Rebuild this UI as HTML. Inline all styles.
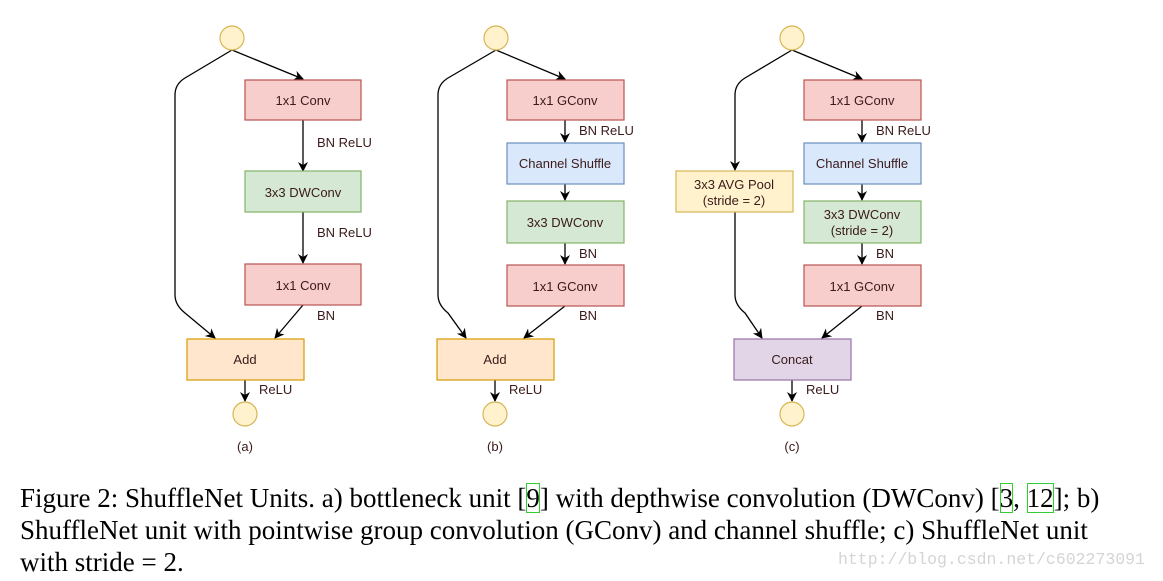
<!DOCTYPE html>
<html><head><meta charset="utf-8"><style>
html,body{margin:0;padding:0;background:#fff;width:1163px;height:581px;overflow:hidden;position:relative}
svg{position:absolute;left:0;top:0}
.cap{position:absolute;left:20px;top:482px;font-family:"Liberation Serif",serif;font-size:27px;line-height:32px;color:#000;letter-spacing:0px;white-space:nowrap}
.ref{outline:1px solid #3c3;outline-offset:-1px}
.wm{position:absolute;left:838px;top:550px;font-family:"Liberation Mono",monospace;font-size:16.5px;color:#d4d4d4}
</style></head><body>
<svg width="1163" height="581" viewBox="0 0 1163 581" font-family="Liberation Sans, sans-serif" font-size="13">
<defs><marker id="a" markerWidth="10" markerHeight="10" refX="9" refY="5" orient="auto" markerUnits="userSpaceOnUse"><path d="M0,0 L10,5 L0,10 L3,5z" fill="#000"/></marker></defs>
<g fill="none" stroke="#000" stroke-width="1.3">
<path d="M232,50 L303,79" marker-end="url(#a)"/>
<path d="M232,50 L185,78 Q175,84 175,95 L175,295 Q175,305 185,313 L215,338" marker-end="url(#a)"/>
<path d="M303,120 V171" marker-end="url(#a)"/>
<path d="M303,212 V263" marker-end="url(#a)"/>
<path d="M303,305 L275,338" marker-end="url(#a)"/>
<path d="M245,380 V401" marker-end="url(#a)"/>
<path d="M496,50 L565,79" marker-end="url(#a)"/>
<path d="M496,50 L448,78 Q438,84 438,95 L438,295 Q438,305 448,313 L466,338" marker-end="url(#a)"/>
<path d="M565,120 V142" marker-end="url(#a)"/>
<path d="M565,184 V200" marker-end="url(#a)"/>
<path d="M565,243 V264" marker-end="url(#a)"/>
<path d="M565,306 L524,338" marker-end="url(#a)"/>
<path d="M495,380 V401" marker-end="url(#a)"/>
<path d="M792,50 L862,79" marker-end="url(#a)"/>
<path d="M792,50 L745,78 Q735,84 735,95 L735,170" marker-end="url(#a)"/>
<path d="M735,212 L735,295 Q735,305 745,313 L762,338" marker-end="url(#a)"/>
<path d="M862,120 V142" marker-end="url(#a)"/>
<path d="M862,184 V200" marker-end="url(#a)"/>
<path d="M862,243 V264" marker-end="url(#a)"/>
<path d="M862,306 L822,338" marker-end="url(#a)"/>
<path d="M792,380 V401" marker-end="url(#a)"/>
</g>
<g stroke-width="1.2">
<circle cx="232" cy="38" r="12" fill="#fff2cc" stroke="#d6b656"/>
<circle cx="245" cy="414" r="12" fill="#fff2cc" stroke="#d6b656"/>
<circle cx="496" cy="38" r="12" fill="#fff2cc" stroke="#d6b656"/>
<circle cx="495" cy="414" r="12" fill="#fff2cc" stroke="#d6b656"/>
<circle cx="792" cy="38" r="12" fill="#fff2cc" stroke="#d6b656"/>
<circle cx="792" cy="414" r="12" fill="#fff2cc" stroke="#d6b656"/>
<rect x="245" y="80" width="116" height="40" fill="#f8cecc" stroke="#b85450"/>
<rect x="245" y="171" width="116" height="41" fill="#d5e8d4" stroke="#82b366"/>
<rect x="245" y="264" width="116" height="41" fill="#f8cecc" stroke="#b85450"/>
<rect x="187" y="339" width="117" height="41" fill="#ffe6cc" stroke="#d79b00"/>
<rect x="507" y="80" width="117" height="40" fill="#f8cecc" stroke="#b85450"/>
<rect x="507" y="143" width="117" height="41" fill="#dae8fc" stroke="#6c8ebf"/>
<rect x="507" y="201" width="117" height="42" fill="#d5e8d4" stroke="#82b366"/>
<rect x="507" y="265" width="117" height="41" fill="#f8cecc" stroke="#b85450"/>
<rect x="437" y="339" width="117" height="41" fill="#ffe6cc" stroke="#d79b00"/>
<rect x="804" y="80" width="117" height="40" fill="#f8cecc" stroke="#b85450"/>
<rect x="804" y="143" width="117" height="41" fill="#dae8fc" stroke="#6c8ebf"/>
<rect x="804" y="201" width="117" height="42" fill="#d5e8d4" stroke="#82b366"/>
<rect x="804" y="265" width="117" height="41" fill="#f8cecc" stroke="#b85450"/>
<rect x="676" y="171" width="117" height="41" fill="#fff2cc" stroke="#d6b656"/>
<rect x="734" y="339" width="117" height="41" fill="#e1d5e7" stroke="#9673a6"/>
</g>
<g fill="#3a1a1a" text-anchor="middle">
<text x="303" y="105">1x1 Conv</text>
<text x="303" y="197">3x3 DWConv</text>
<text x="303" y="290">1x1 Conv</text>
<text x="245" y="364">Add</text>
<text x="245" y="451">(a)</text>
<text x="565" y="105">1x1 GConv</text>
<text x="565" y="168">Channel Shuffle</text>
<text x="565" y="227">3x3 DWConv</text>
<text x="565" y="291">1x1 GConv</text>
<text x="495" y="364">Add</text>
<text x="495" y="451">(b)</text>
<text x="862" y="105">1x1 GConv</text>
<text x="862" y="168">Channel Shuffle</text>
<text x="862" y="219">3x3 DWConv</text>
<text x="862" y="235">(stride = 2)</text>
<text x="862" y="291">1x1 GConv</text>
<text x="734" y="189">3x3 AVG Pool</text>
<text x="734" y="205">(stride = 2)</text>
<text x="792" y="364">Concat</text>
<text x="792" y="451">(c)</text>
</g>
<g fill="#3a1a1a">
<text x="317" y="147">BN ReLU</text>
<text x="317" y="237">BN ReLU</text>
<text x="317" y="320">BN</text>
<text x="259" y="394">ReLU</text>
<text x="579" y="135">BN ReLU</text>
<text x="579" y="258">BN</text>
<text x="579" y="320">BN</text>
<text x="509" y="394">ReLU</text>
<text x="876" y="135">BN ReLU</text>
<text x="876" y="258">BN</text>
<text x="876" y="320">BN</text>
<text x="806" y="394">ReLU</text>
</g>
</svg>
<div class="cap">Figure 2: ShuffleNet Units. a) bottleneck unit [<span class="ref">9</span>] with depthwise convolution (DWConv) [<span class="ref">3</span>, <span class="ref">12</span>]; b)<br>ShuffleNet unit with pointwise group convolution (GConv) and channel shuffle; c) ShuffleNet unit<br>with stride = 2.</div>
<div class="wm">http://blog.csdn.net/c602273091</div>
</body></html>
